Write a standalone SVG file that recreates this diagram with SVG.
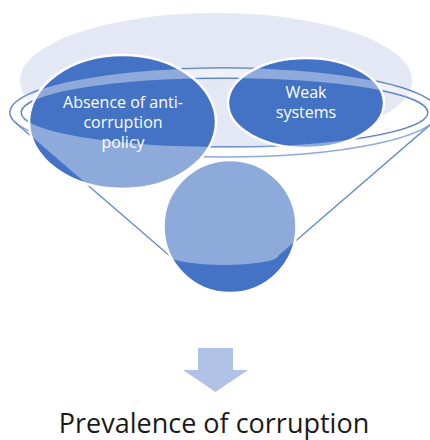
<svg xmlns="http://www.w3.org/2000/svg" width="430" height="440" viewBox="0 0 430 440">
  <defs>
    <style>
      .rim { fill: none; stroke: #4472C4; stroke-width: 1.5; }
      .node { fill: #4472C4; stroke: #FFFFFF; stroke-width: 2.5; }
      .lbl { font-family: "Open Sans", "Liberation Sans", sans-serif; font-size: 16px; fill: #FFFFFF; text-anchor: middle; }
      .result { font-family: "Open Sans", "Liberation Sans", sans-serif; font-size: 27px; fill: #1A1A1A; text-anchor: middle; }
    </style>
  </defs>
  <rect width="430" height="440" fill="#FFFFFF"/>

  <g id="funnel-mouth">
    <ellipse cx="216" cy="80.5" rx="196" ry="67.5" fill="#E3E8F4"/>
  </g>

  <g id="connectors">
    <ellipse class="rim" cx="224" cy="112.5" rx="214" ry="44.5"/>
    <ellipse class="rim" cx="224.5" cy="112.5" rx="203.5" ry="34.5"/>
    <path class="rim" d="M16,123 L170,256 A54 9 0 0 0 278,256 L432,123"/>
  </g>

  <g id="node-absence">
    <ellipse class="node" cx="122.5" cy="122" rx="93.5" ry="67"/>
    <text class="lbl" x="123" y="108">Absence of anti-</text>
    <text class="lbl" x="123" y="128">corruption</text>
    <text class="lbl" x="123" y="148">policy</text>
  </g>

  <g id="node-weak">
    <ellipse class="node" cx="306" cy="103" rx="78" ry="45"/>
    <text class="lbl" x="306" y="98">Weak</text>
    <text class="lbl" x="306" y="118">systems</text>
  </g>

  <g id="node-bottom">
    <circle class="node" cx="230" cy="226.5" r="66.5"/>
  </g>

  <g id="funnel-overlay">
    <path fill="#FFFFFF" fill-opacity="0.4" fill-rule="evenodd"
      d="M16,123 L170,256 A54 9 0 0 0 278,256 L432,123 A214 44.5 0 1 0 16,123 Z M21,112.5 A203.5 34.5 0 1 0 428,112.5 A203.5 34.5 0 1 0 21,112.5 Z"/>
  </g>

  <g id="arrow">
    <polygon points="198,348 233,348 233,370 248,370 215.5,392 183,370 198,370" fill="#B0C3E6"/>
  </g>

  <g id="node-result">
    <text class="result" x="214" y="433">Prevalence of corruption</text>
  </g>
</svg>
